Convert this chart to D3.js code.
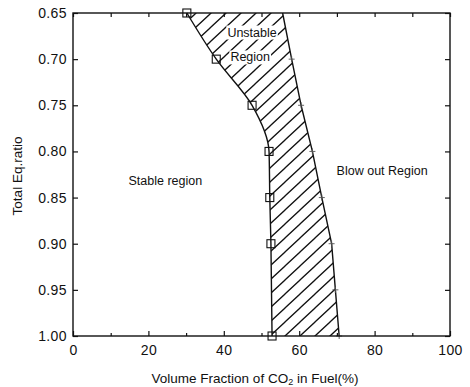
<!DOCTYPE html>
<meta charset="utf-8">
<style>
body { margin: 0; background: #fff; }
text { font-family: "Liberation Sans", Arial, Helvetica, sans-serif; fill: #111; }
.axis path { display: none; }
.axis line { stroke: #111; stroke-width: 1.2; }
.axis text { font-size: 14px; letter-spacing: 0.4px; }
</style>
<body>
<script src="https://cdn.jsdelivr.net/npm/d3@7/dist/d3.min.js"></script>
<script>

var width = 470,
    height = 387;

// stable boundary (squares)
var stableEq  = [0.65, 0.70, 0.75, 0.80, 0.85, 0.90, 1.00];
var stableCO2 = [30.2, 38.0, 47.5, 52.0, 52.2, 52.5, 52.8];

// blow-out boundary (plus markers)
var blowEq  = [0.65, 0.70, 0.75, 0.80, 0.85, 0.90, 0.95, 1.00];
var blowCO2 = [55.6, 58.0, 60.5, 63.5, 66.0, 68.6, 69.6, 70.6];

var yTicks = [0.65, 0.70, 0.75, 0.80, 0.85, 0.90, 0.95, 1.00];
var xTicks = [0, 10, 20, 30, 40, 50, 60, 70, 80, 90, 100];

var regionLabels = [
  {text: "Stable region", x: 24.5, y: 0.836, box: false},
  {text: "Unstable", x: 47.5, y: 0.6755, box: true},
  {text: "Region", x: 47.0, y: 0.7025, box: true},
  {text: "Blow out Region", x: 82, y: 0.825, box: false}
];

var x = d3.scaleLinear().domain([0, 100]).range([73, 450]);
var y = d3.scaleLinear().domain([0.65, 1.0]).range([13, 336]);

var svg = d3.select("body").append("svg")
    .attr("width", width)
    .attr("height", height);

var defs = svg.append("defs");
var pat = defs.append("pattern")
    .attr("id", "hatch")
    .attr("patternUnits", "userSpaceOnUse")
    .attr("width", 15)
    .attr("height", 14);
pat.append("path")
    .attr("d", "M0,14 L15,0 M-3,2.8 L3,-2.8 M12,16.8 L18,11.2")
    .attr("stroke", "#111")
    .attr("stroke-width", 1.3)
    .attr("fill", "none");

var stable = stableEq.map(function(d, i) { return {eq: d, co2: stableCO2[i]}; });
var blow = blowEq.map(function(d, i) { return {eq: d, co2: blowCO2[i]}; });

var stableLine = d3.line()
    .x(function(d) { return x(d.co2); })
    .y(function(d) { return y(d.eq); })
    .curve(d3.curveMonotoneY);

var blowLine = d3.line()
    .x(function(d) { return x(d.co2); })
    .y(function(d) { return y(d.eq); });

// hatched unstable region
var areaPath = stableLine(stable) + blowLine(blow.slice().reverse()).replace(/^M/, "L") + "Z";
svg.append("path")
    .attr("d", areaPath)
    .attr("fill", "url(#hatch)")
    .attr("stroke", "none");

svg.append("path")
    .attr("d", stableLine(stable))
    .attr("fill", "none")
    .attr("stroke", "#111")
    .attr("stroke-width", 1.4);

svg.append("path")
    .attr("d", blowLine(blow))
    .attr("fill", "none")
    .attr("stroke", "#111")
    .attr("stroke-width", 1.4);

// markers
svg.selectAll(".sq")
    .data(stable)
  .enter().append("rect")
    .attr("class", "sq")
    .attr("x", function(d) { return x(d.co2) - 4; })
    .attr("y", function(d) { return y(d.eq) - 4; })
    .attr("width", 8)
    .attr("height", 8)
    .attr("fill", "none")
    .attr("stroke", "#111")
    .attr("stroke-width", 1.1);

svg.selectAll(".plus")
    .data(blow.slice(1))
  .enter().append("path")
    .attr("class", "plus")
    .attr("d", function(d) {
      var cx = x(d.co2), cy = y(d.eq);
      return "M" + (cx - 3) + "," + cy + "H" + (cx + 3) + "M" + cx + "," + (cy - 3) + "V" + (cy + 3);
    })
    .attr("stroke", "#555")
    .attr("stroke-width", 0.9);

// axes (ticks inward)
svg.append("g")
    .attr("class", "axis")
    .attr("transform", "translate(" + x(0) + ",0)")
    .call(d3.axisLeft(y).tickValues(yTicks).tickSize(-5).tickPadding(6)
      .tickFormat(d3.format(".2f")));

svg.append("g")
    .attr("class", "axis")
    .attr("transform", "translate(" + x(100) + ",0)")
    .call(d3.axisRight(y).tickValues(yTicks).tickSize(-5).tickFormat(""));

var bottom = svg.append("g")
    .attr("class", "axis")
    .attr("transform", "translate(0," + y(1.0) + ")")
    .call(d3.axisBottom(x).tickValues(xTicks).tickSize(-4).tickPadding(9)
      .tickFormat(function(d) { return d % 20 === 0 ? d : ""; }));
bottom.selectAll(".tick line")
    .attr("y2", function(d) { return d % 20 === 0 ? -5 : -3; });

svg.append("g")
    .attr("class", "axis")
    .attr("transform", "translate(0," + y(0.65) + ")")
    .call(d3.axisTop(x).tickValues(xTicks).tickSize(-4).tickFormat(""));

// frame
svg.append("rect")
    .attr("x", x(0))
    .attr("y", y(0.65))
    .attr("width", x(100) - x(0))
    .attr("height", y(1.0) - y(0.65))
    .attr("fill", "none")
    .attr("stroke", "#111")
    .attr("stroke-width", 1.4);

// region labels (white box behind the ones sitting on the hatching)
var labels = svg.selectAll(".region")
    .data(regionLabels)
  .enter().append("g")
    .attr("class", "region");

labels.append("text")
    .attr("x", function(d) { return x(d.x); })
    .attr("y", function(d) { return y(d.y); })
    .attr("text-anchor", "middle")
    .style("font-size", "12.5px")
    .text(function(d) { return d.text; });

labels.filter(function(d) { return d.box; }).each(function() {
  var g = d3.select(this);
  var b = g.select("text").node().getBBox();
  g.insert("rect", "text")
    .attr("x", b.x - 1)
    .attr("y", b.y)
    .attr("width", b.width + 2)
    .attr("height", b.height)
    .attr("fill", "#fff");
});

// axis titles
var xt = svg.append("text")
    .attr("x", 255)
    .attr("y", 383)
    .attr("text-anchor", "middle")
    .style("font-size", "13.5px");
xt.append("tspan").text("Volume Fraction of CO");
xt.append("tspan").attr("dy", 2).style("font-size", "9px").text("2");
xt.append("tspan").attr("dy", -2).text(" in Fuel(%)");

svg.append("text")
    .attr("transform", "translate(22,176) rotate(-90)")
    .attr("text-anchor", "middle")
    .style("font-size", "13.5px")
    .text("Total Eq.ratio");

</script>
